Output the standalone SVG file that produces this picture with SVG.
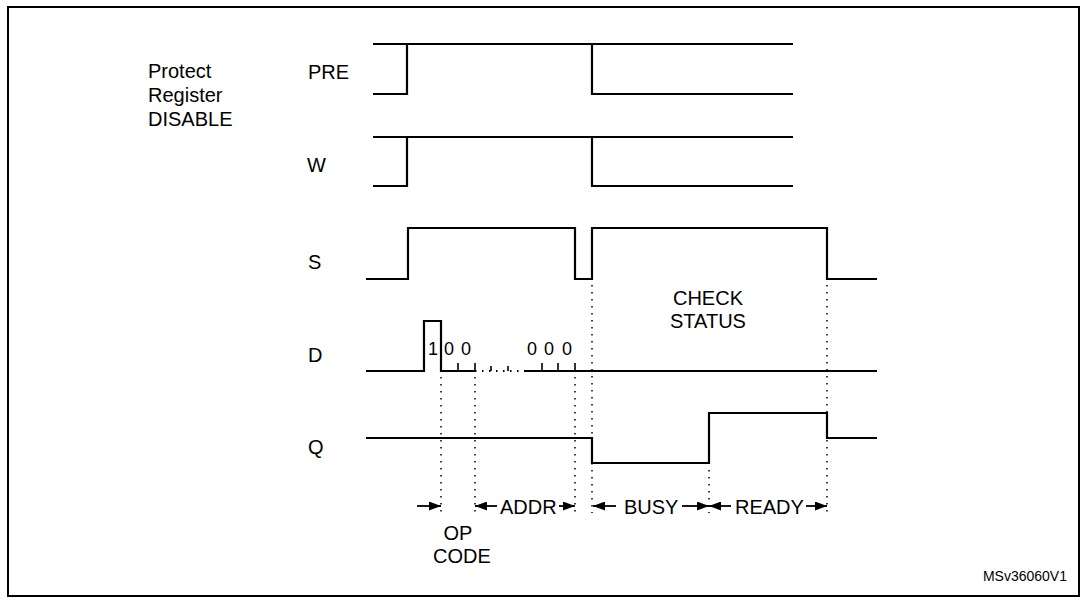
<svg xmlns="http://www.w3.org/2000/svg" width="1085" height="599" viewBox="0 0 1085 599">
<defs>
<style>
.w{fill:none;stroke:#000;stroke-width:2.2;stroke-linejoin:miter;stroke-linecap:butt}
.t{stroke:#000;stroke-width:1.6}
.d{fill:none;stroke:#000;stroke-width:1.5;stroke-dasharray:1.5 5.5}
.lbl{font-family:"Liberation Sans",Arial,sans-serif;font-size:20px;fill:#000}
.dig{font-family:"Liberation Sans",Arial,sans-serif;font-size:18px;fill:#000;text-anchor:middle}
.ar{stroke:#000;stroke-width:1.8;fill:none}
</style>
<marker id="ah" viewBox="0 0 12 9" refX="12" refY="4.5" markerWidth="12" markerHeight="9" markerUnits="userSpaceOnUse" orient="auto">
<path d="M0,0 L12,4.5 L0,9 Z" fill="#000"/>
</marker>
</defs>
<rect x="0" y="0" width="1085" height="599" fill="#fff"/>
<rect x="8" y="7" width="1071" height="589" fill="none" stroke="#000" stroke-width="2"/>

<g id="title-left">
<text class="lbl" x="148" y="78">Protect</text>
<text class="lbl" x="148" y="102">Register</text>
<text class="lbl" x="148" y="126">DISABLE</text>
</g>

<g id="sig-PRE">
<text class="lbl" x="308" y="79">PRE</text>
<path class="w" d="M373,44 H793 M373,94 H407 V44 M592,44 V94 H793"/>
</g>

<g id="sig-W">
<text class="lbl" x="307" y="172">W</text>
<path class="w" d="M373,137 H793 M373,186 H407 V137 M592,137 V186 H793"/>
</g>

<g id="sig-S">
<text class="lbl" x="308" y="269">S</text>
<path class="w" d="M366,279 H408 V228 H575 V279 H592 V228 H827 V279 H877"/>
</g>

<g id="sig-D">
<text class="lbl" x="308" y="362">D</text>
<path class="w" d="M366,371 H424 V321 H441 V371 H475 M525,371 H877"/>
<path class="d" d="M475,371 H525" style="stroke-width:2"/>
<path class="t" d="M458,371 V363 M475,371 V363 M491,371 V366 M508,371 V366 M542,371 V363 M558,371 V363 M575,371 V363"/>
<text class="dig" x="433" y="355">1</text>
<text class="dig" x="449" y="355">0</text>
<text class="dig" x="466" y="355">0</text>
<text class="dig" x="532" y="355">0</text>
<text class="dig" x="549" y="355">0</text>
<text class="dig" x="567" y="355">0</text>
</g>

<g id="sig-Q">
<text class="lbl" x="308" y="454">Q</text>
<path class="w" d="M366,438 H592 V463 H709 V413 H827 V438 H877"/>
</g>

<g id="check-status">
<text class="lbl" x="708" y="305" text-anchor="middle">CHECK</text>
<text class="lbl" x="708" y="328" text-anchor="middle">STATUS</text>
</g>

<g id="connectors">
<path class="d" d="M441,377 V513 M475,377 V513 M575,377 V513 M592,285 V438 M592,463 V513 M709,470 V513 M827,285 V413 M827,440 V513"/>
<line class="ar" x1="417" y1="506" x2="441" y2="506" marker-end="url(#ah)"/>
<line class="ar" x1="497" y1="506" x2="475" y2="506" marker-end="url(#ah)"/>
<line class="ar" x1="559" y1="506" x2="575" y2="506" marker-end="url(#ah)"/>
<line class="ar" x1="616" y1="506" x2="593" y2="506" marker-end="url(#ah)"/>
<line class="ar" x1="682" y1="506" x2="709" y2="506" marker-end="url(#ah)"/>
<line class="ar" x1="731" y1="506" x2="709" y2="506" marker-end="url(#ah)"/>
<line class="ar" x1="806" y1="506" x2="827" y2="506" marker-end="url(#ah)"/>
</g>

<g id="interval-labels">
<text class="lbl" x="500" y="514">ADDR</text>
<text class="lbl" x="624" y="514">BUSY</text>
<text class="lbl" x="735" y="514">READY</text>
<text class="lbl" x="458" y="540" text-anchor="middle">OP</text>
<text class="lbl" x="462" y="563" text-anchor="middle">CODE</text>
</g>

<text x="1067" y="581" text-anchor="end" style="font-family:'Liberation Sans',Arial,sans-serif;font-size:14px">MSv36060V1</text>
</svg>
